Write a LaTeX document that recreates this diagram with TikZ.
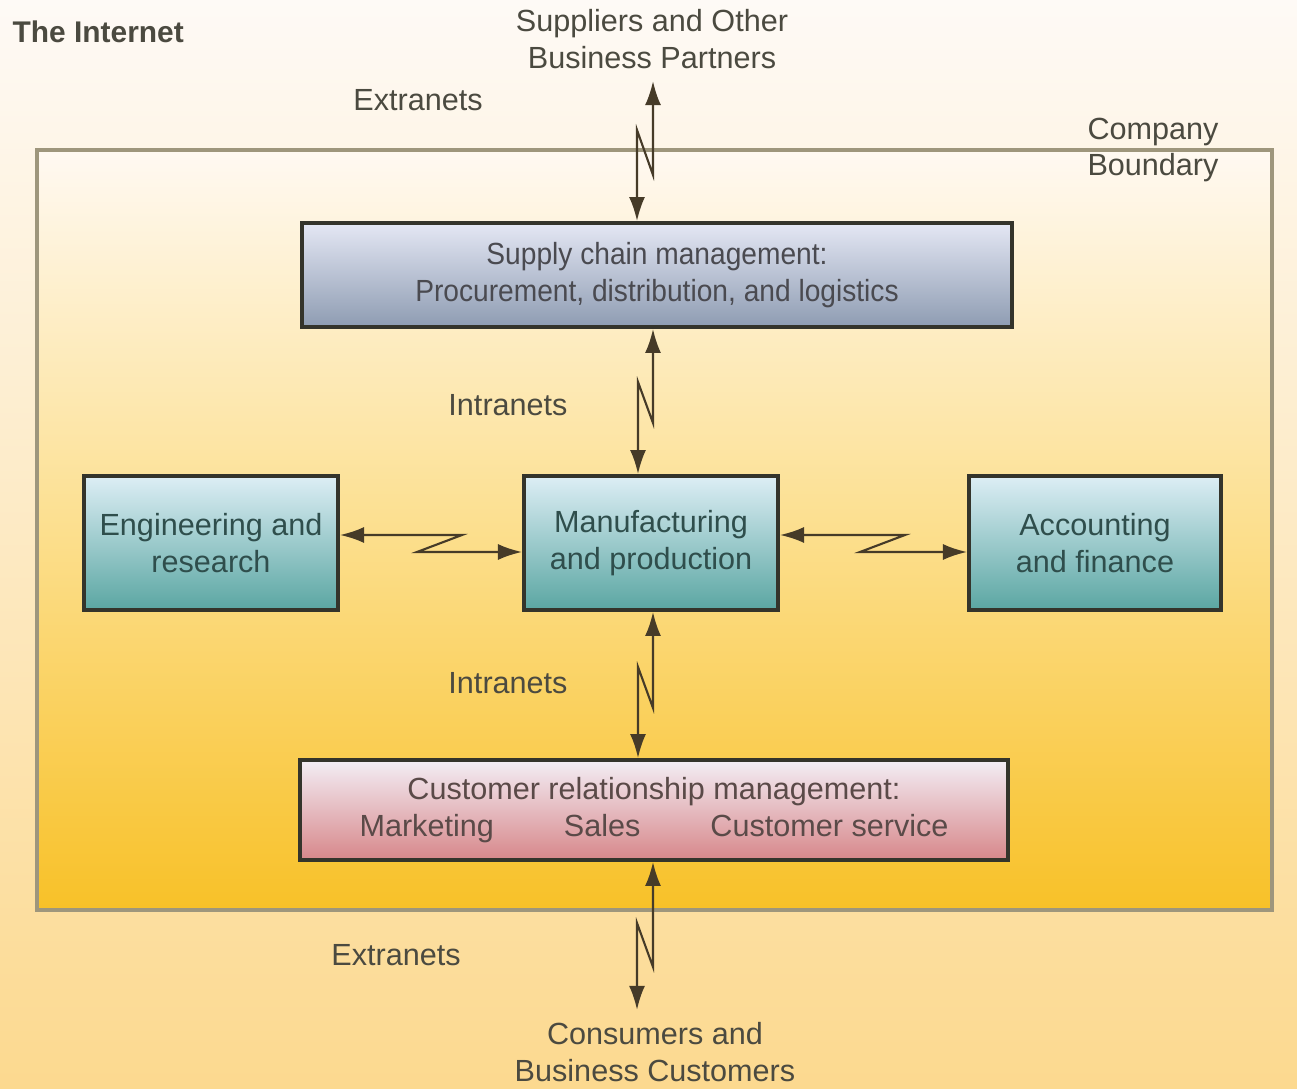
\documentclass[tikz,border=0pt]{standalone}
\usepackage{fontspec}
\setmainfont{Liberation Sans}
\newfontfamily\narrowsans[FakeStretch=0.92]{Liberation Sans}
\usepackage{xcolor}
\usepackage{tikz}
\usetikzlibrary{arrows.meta, positioning, calc}

\definecolor{ebiz_text}{HTML}{4B4A40}
\definecolor{ebiz_line}{HTML}{463B28}
\definecolor{ebiz_frame}{HTML}{9E967C}
\definecolor{ebiz_edge}{HTML}{34342B}
\definecolor{out_top}{HTML}{FEFAF6}
\definecolor{out_bot}{HTML}{FCD98F}
\definecolor{in_top}{HTML}{FFF9F2}
\definecolor{in_mid}{HTML}{FCDF8E}
\definecolor{in_bot}{HTML}{F8C128}
\definecolor{scm_top}{HTML}{E4E7F4}
\definecolor{scm_bot}{HTML}{8E9CB2}
\definecolor{scm_text}{HTML}{4A4A50}
\definecolor{teal_top}{HTML}{DDEEF5}
\definecolor{teal_bot}{HTML}{5AA6A2}
\definecolor{teal_text}{HTML}{2F4E4C}
\definecolor{crm_top}{HTML}{F3EEF5}
\definecolor{crm_bot}{HTML}{D7878A}
\definecolor{crm_text}{HTML}{5A4A48}

\begin{document}
\begin{tikzpicture}[x=0.01cm, y=-0.01cm,
    every node/.style={font=\fontsize{8.7}{10.5}\selectfont, text=ebiz_text, align=center},
    unit/.style={draw=ebiz_edge, line width=1.1pt, minimum width=2.54cm,
                 minimum height=1.34cm, top color=teal_top, bottom color=teal_bot,
                 text=teal_text},
    link/.style={{Latex[length=2.4mm,width=1.6mm]}-{Latex[length=2.4mm,width=1.6mm]},
                 draw=ebiz_line, line width=0.6pt}]
  \useasboundingbox (0,0) rectangle (1297,1089);
  % background and company boundary
  \fill[top color=out_top, bottom color=out_bot] (0,0) rectangle (1297,1089);
  \draw[ebiz_frame, line width=0.9pt, top color=in_top, bottom color=in_bot,
        middle color=in_mid] (37,150) rectangle (1272,910);

  \node[anchor=west, inner sep=0pt, font=\bfseries\fontsize{8.5}{10}\selectfont] (internet) at (12,32) {The Internet};
  \node (suppliers) at (652,39) {Suppliers and Other\\Business Partners};
  \node (extrTop) at (418,100) {Extranets};
  \node (boundary) at (1153,150) {Company\\Boundary};

  \node[unit, minimum width=7.09cm, minimum height=1.04cm, top color=scm_top,
        bottom color=scm_bot, text=scm_text,
        font=\narrowsans\fontsize{8.7}{10.5}\selectfont] (scm) at (657,275)
        {Supply chain management:\\Procurement, distribution, and logistics};
  \node (intrTop) at (508,405) {Intranets};

  \node[unit] (eng) at (211,543) {Engineering and\\research};
  \node[unit] (mfg) at (651,543) {Manufacturing\\and production};
  \node[unit, minimum width=2.52cm] (acct) at (1095,543) {Accounting\\and finance};

  \node (intrBot) at (508,683) {Intranets};
  \node[unit, minimum width=7.07cm, minimum height=1.0cm, top color=crm_top,
        bottom color=crm_bot, text=crm_text] (crm) at (654,810)
        {Customer relationship management:\\Marketing\hspace{0.7cm}Sales\hspace{0.7cm}Customer service};
  \node (extrBot) at (396,955) {Extranets};
  \node (consumers) at (655,1052) {Consumers and\\Business Customers};

  % zigzag links
  \coordinate (up1) at (653,175); \coordinate (dn1) at (637,130);
  \draw[link] (suppliers.south -| up1) -- (up1) -- (dn1) -- (dn1 |- scm.north);
  \coordinate (up2) at (653,423); \coordinate (dn2) at (638,382);
  \draw[link] (scm.south -| up2) -- (up2) -- (dn2) -- (dn2 |- mfg.north);
  \coordinate (up3) at (653,708); \coordinate (dn3) at (638,667);
  \draw[link] (mfg.south -| up3) -- (up3) -- (dn3) -- (dn3 |- crm.north);
  \coordinate (up4) at (653,967); \coordinate (dn4) at (637,923);
  \draw[link] (crm.south -| up4) -- (up4) -- (dn4) -- (dn4 |- consumers.north);

  \coordinate (rt1) at (462,535); \coordinate (lt1) at (417,552);
  \draw[link] (eng.east |- rt1) -- (rt1) -- (lt1) -- (lt1 -| mfg.west);
  \coordinate (rt2) at (905,535); \coordinate (lt2) at (860,552);
  \draw[link] (mfg.east |- rt2) -- (rt2) -- (lt2) -- (lt2 -| acct.west);
\end{tikzpicture}
\end{document}
